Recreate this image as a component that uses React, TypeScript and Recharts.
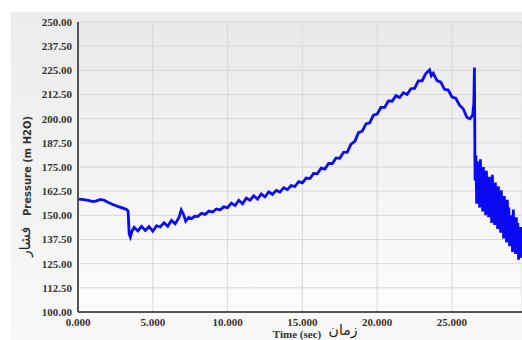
import React from "react";
import { LineChart, Line, XAxis, YAxis, CartesianGrid, Label } from "recharts";

// time axis (sec) and pressure (m H2O)
const timeSec = [
  0, 0.25, 0.5, 0.75, 1.0, 1.25, 1.5, 1.75, 2.0, 2.25, 2.5, 2.75, 3.0, 3.25, 3.35,
  3.42, 3.5, 3.6, 3.75, 4.0, 4.25, 4.5, 4.75, 5.0, 5.25, 5.5, 5.75, 6.0, 6.25, 6.5, 6.75,
  6.9, 7.05, 7.2, 7.4, 7.6, 7.8, 8.0, 8.25, 8.5, 8.75, 9.0, 9.25, 9.5, 9.75,
  10.0, 10.25, 10.5, 10.75, 11.0, 11.25, 11.5, 11.75, 12.0, 12.25, 12.5, 12.75,
  13.0, 13.25, 13.5, 13.75, 14.0, 14.25, 14.5, 14.75, 15.0, 15.25, 15.5, 15.75,
  16.0, 16.25, 16.5, 16.75, 17.0, 17.25, 17.5, 17.75, 18.0, 18.25, 18.5, 18.75,
  19.0, 19.25, 19.5, 19.75, 20.0, 20.25, 20.5, 20.75, 21.0, 21.25, 21.5, 21.75,
  22.0, 22.25, 22.5, 22.75, 23.0, 23.25, 23.5, 23.62, 23.75, 24.0, 24.25, 24.5, 24.75,
  25.0, 25.25, 25.5, 25.75, 26.0, 26.2, 26.38, 26.46, 26.5, 26.54,
  26.6, 26.65, 26.7, 26.75, 26.8, 26.85, 26.9, 26.95, 27.0, 27.05, 27.1, 27.15,
  27.2, 27.25, 27.3, 27.35, 27.4, 27.45, 27.5, 27.55, 27.6, 27.65, 27.7, 27.75,
  27.8, 27.85, 27.9, 27.95, 28.0, 28.05, 28.1, 28.15, 28.2, 28.25, 28.3, 28.35,
  28.4, 28.45, 28.5, 28.55, 28.6, 28.65, 28.7, 28.75, 28.8, 28.85, 28.9, 28.95,
  29.0, 29.05, 29.1, 29.15, 29.2, 29.25, 29.3, 29.35, 29.4, 29.45, 29.5, 29.55,
  29.6, 29.65,
];

const pressure = [
  158.4, 158.3, 158.0, 157.6, 157.1, 157.5, 158.2, 157.8, 156.8, 155.9, 155.1, 154.4, 153.7, 153.0, 152.2,
  140.5, 138.8, 141.6, 143.8, 141.9, 144.3, 142.2, 144.2, 141.8, 144.6, 144.0, 146.2, 144.3, 147.4, 145.6, 148.9,
  152.8, 150.6, 147.0, 148.9, 148.3, 149.6, 149.4, 151.0, 150.5, 152.2, 151.7, 153.3, 152.8, 154.4,
  154.0, 156.3, 155.0, 157.8, 156.0, 158.9, 157.8, 160.1, 158.4, 161.1, 159.6, 162.1,
  160.8, 162.9, 162.0, 164.3, 163.3, 165.4, 164.9, 167.4, 166.8, 169.3, 169.0, 171.7,
  171.5, 174.4, 173.9, 176.8, 176.8, 179.7, 179.5, 182.6, 182.7, 186.8, 188.2, 192.8,
  193.5, 197.3, 197.8, 201.8, 202.4, 205.8, 205.8, 209.2, 209.0, 211.9, 210.9, 213.4,
  212.5, 215.5, 215.7, 219.5, 219.6, 223.3, 225.2, 222.2, 223.5, 219.7, 218.9, 215.2, 214.8,
  211.2, 210.6, 207.0, 205.1, 200.6, 199.9, 201.8, 208.0, 226.4, 168.0,
  181, 156, 178, 163, 170, 154, 179, 158, 166, 152, 175, 161,
  168, 150, 173, 155, 160, 149, 170, 157, 165, 146, 171, 150,
  158, 145, 167, 153, 162, 143, 165, 148, 152, 141, 163, 147,
  157, 138, 160, 145, 151, 136, 158, 141, 154, 134, 150, 139,
  150, 131, 153, 137, 144, 130, 149, 134, 146, 127, 141, 132,
  144, 128,
];

const xTicks = [0, 5, 10, 15, 20, 25];
const yTicks = [100, 112.5, 125, 137.5, 150, 162.5, 175, 187.5, 200, 212.5, 225, 237.5, 250];

const data = timeSec.map((t, i) => ({ t, p: pressure[i] }));

const tickStyle = {
  fill: "#333",
  fontSize: 11,
  fontWeight: 700,
  fontFamily: "Liberation Serif",
};

export default function App() {
  return (
    <div style={{ position: "absolute", left: 0, top: 0, width: 522, height: 340, background: "#fff", overflow: "hidden" }}>
      {/* outer panel */}
      <div
        style={{
          position: "absolute",
          left: 11,
          top: 12,
          width: 511,
          height: 328,
          background: "linear-gradient(to bottom, #ececec, #f9f9f9)",
        }}
      />
      {/* plot area */}
      <div
        style={{
          position: "absolute",
          left: 78,
          top: 22,
          width: 444,
          height: 290,
          background: "linear-gradient(to bottom, #e9e9e9, #fdfdfd)",
        }}
      />
      <div style={{ position: "absolute", left: 0, top: 0 }}>
        <LineChart width={522} height={340} data={data} margin={{ top: 22, right: 0, bottom: 0, left: 0 }}>
          <CartesianGrid stroke="#d8d8d8" strokeWidth={1} />
          <XAxis
            type="number"
            dataKey="t"
            domain={[0, 29.68]}
            ticks={xTicks}
            allowDataOverflow
            height={28}
            tickLine={false}
            tickSize={4}
            tickMargin={2}
            axisLine={{ stroke: "#555", strokeWidth: 2 }}
            tick={tickStyle}
            tickFormatter={(v: number) => v.toFixed(3)}
          >
            <Label
              content={() => (
                <g>
                  <text x={297} y={338} textAnchor="middle" fill="#333" fontSize={11} fontWeight={700} fontFamily="Liberation Serif">
                    Time (sec)
                  </text>
                  <text x={343} y={335} textAnchor="middle" fill="#222" fontSize={14} fontFamily="DejaVu Sans">
                    زمان
                  </text>
                </g>
              )}
            />
          </XAxis>
          <YAxis
            type="number"
            domain={[100, 250]}
            ticks={yTicks}
            width={78}
            tickLine={false}
            tickSize={4}
            tickMargin={2}
            axisLine={{ stroke: "#555", strokeWidth: 2 }}
            tick={tickStyle}
            tickFormatter={(v: number) => v.toFixed(2)}
          >
            <Label
              content={() => (
                <g>
                  <text
                    x={27}
                    y={166}
                    transform="rotate(-90 27 166)"
                    textAnchor="middle"
                    dominantBaseline="central"
                    fill="#333"
                    fontSize={10}
                    fontWeight={700}
                    fontFamily="DejaVu Sans"
                  >
                    Pressure (m H2O)
                  </text>
                  <text
                    x={25}
                    y={242}
                    transform="rotate(-90 25 242)"
                    textAnchor="middle"
                    dominantBaseline="central"
                    fill="#222"
                    fontSize={14}
                    fontFamily="DejaVu Sans"
                  >
                    فشار
                  </text>
                </g>
              )}
            />
          </YAxis>
          <Line
            type="linear"
            dataKey="p"
            stroke="#0a0af2"
            strokeWidth={2.8}
            dot={false}
            isAnimationActive={false}
          />
        </LineChart>
      </div>
    </div>
  );
}
